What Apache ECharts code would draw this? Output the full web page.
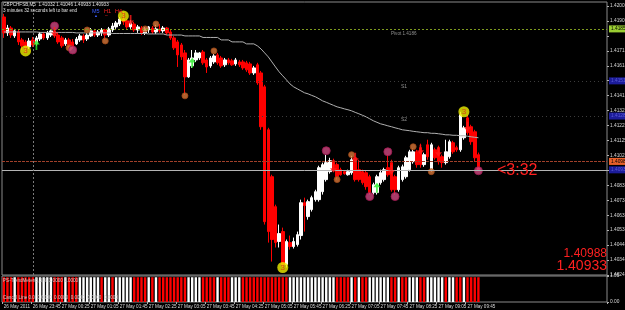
<!DOCTYPE html>
<html><head><meta charset="utf-8">
<script src="https://cdn.jsdelivr.net/npm/echarts@6/dist/echarts.min.js"></script>
<style>html,body{margin:0;padding:0;background:#000;}#c{width:625px;height:310px;}</style>
</head><body><div id="c"></div>
<script>
// ---- data (GBPCHF M5) ----
const openP = [1.41933,1.41829,1.41861,1.41809,1.41835,1.41783,1.41770,1.41737,1.41783,1.41757,
1.41789,1.41822,1.41796,1.41815,1.41842,1.41815,1.41796,1.41757,1.41783,1.41770,
1.41757,1.41783,1.41809,1.41789,1.41809,1.41842,1.41815,1.41829,1.41848,1.41815,
1.41848,1.41868,1.41887,1.41920,1.41907,1.41868,1.41887,1.41848,1.41861,1.41829,
1.41848,1.41861,1.41835,1.41855,1.41842,1.41861,1.41835,1.41796,1.41770,1.41750,
1.41698,1.41541,1.41613,1.41652,1.41665,1.41704,1.41652,1.41613,1.41639,1.41685,
1.41665,1.41620,1.41652,1.41646,1.41626,1.41639,1.41639,1.41633,1.41626,1.41567,
1.41620,1.41567,1.41476,1.41195,1.40888,1.40692,1.40464,1.40529,1.40314,1.40457,
1.40431,1.40444,1.40503,1.40718,1.40627,1.40673,1.40738,1.40738,1.40790,1.40869,
1.40921,1.40993,1.40967,1.40934,1.40921,1.40901,1.40914,1.41012,1.40934,1.40921,
1.40914,1.40888,1.40784,1.40784,1.40849,1.40869,1.40947,1.40980,1.40888,1.40803,
1.40869,1.40888,1.40934,1.40986,1.41051,1.41078,1.40967,1.41097,1.40934,1.41064,
1.41078,1.41019,1.40980,1.41019,1.41110,1.41078,1.41064,1.41143,1.41273,1.41215,
1.41182,1.41032];
const closeP = [1.41829,1.41861,1.41815,1.41842,1.41770,1.41744,1.41731,1.41776,1.41750,1.41796,
1.41822,1.41796,1.41829,1.41842,1.41809,1.41770,1.41744,1.41783,1.41744,1.41737,
1.41789,1.41809,1.41783,1.41815,1.41842,1.41815,1.41835,1.41848,1.41815,1.41855,
1.41874,1.41894,1.41920,1.41900,1.41868,1.41894,1.41848,1.41868,1.41829,1.41855,
1.41868,1.41835,1.41855,1.41842,1.41861,1.41829,1.41796,1.41731,1.41685,1.41672,
1.41541,1.41652,1.41665,1.41698,1.41698,1.41633,1.41606,1.41665,1.41678,1.41633,
1.41613,1.41652,1.41633,1.41620,1.41652,1.41620,1.41600,1.41587,1.41567,1.41600,
1.41502,1.41215,1.40594,1.40529,1.40477,1.40457,1.40516,1.40314,1.40464,1.40431,
1.40464,1.40509,1.40718,1.40699,1.40725,1.40751,1.40790,1.40947,1.40967,1.40980,
1.40993,1.40934,1.40888,1.40901,1.40908,1.40921,1.40999,1.40869,1.40869,1.40849,
1.40823,1.40784,1.40836,1.40888,1.40914,1.40934,1.40901,1.40803,1.40803,1.40947,
1.40953,1.41012,1.41051,1.41051,1.40967,1.40967,1.41032,1.41019,1.41097,1.41012,
1.40986,1.40980,1.41051,1.41117,1.41051,1.41064,1.41293,1.41208,1.41176,1.41117,
1.41012,1.40933];
const lowP = [1.41796,1.41809,1.41796,1.41796,1.41750,1.41717,1.41704,1.41724,1.41737,1.41744,
1.41776,1.41783,1.41783,1.41802,1.41796,1.41757,1.41731,1.41744,1.41731,1.41724,
1.41750,1.41770,1.41763,1.41776,1.41802,1.41802,1.41802,1.41809,1.41783,1.41802,
1.41835,1.41855,1.41874,1.41881,1.41855,1.41855,1.41835,1.41829,1.41815,1.41815,
1.41829,1.41822,1.41822,1.41829,1.41829,1.41815,1.41783,1.41717,1.41606,1.41652,
1.41424,1.41535,1.41600,1.41639,1.41652,1.41620,1.41567,1.41600,1.41626,1.41620,
1.41600,1.41606,1.41620,1.41613,1.41613,1.41606,1.41587,1.41574,1.41554,1.41554,
1.41489,1.41195,1.40575,1.40457,1.40333,1.40425,1.40425,1.40294,1.40294,1.40411,
1.40418,1.40431,1.40477,1.40529,1.40607,1.40660,1.40725,1.40725,1.40771,1.40856,
1.40908,1.40921,1.40869,1.40895,1.40901,1.40895,1.40901,1.40856,1.40856,1.40836,
1.40803,1.40771,1.40771,1.40771,1.40836,1.40856,1.40888,1.40790,1.40771,1.40790,
1.40856,1.40875,1.40921,1.40973,1.40947,1.40947,1.40953,1.40999,1.40921,1.40999,
1.40967,1.40947,1.40967,1.41006,1.41038,1.41051,1.41051,1.41130,1.41162,1.41097,
1.40986,1.40933];
const highP = [1.41953,1.41881,1.41874,1.41855,1.41848,1.41796,1.41783,1.41796,1.41802,1.41809,
1.41835,1.41835,1.41842,1.41855,1.41868,1.41829,1.41809,1.41796,1.41796,1.41789,
1.41802,1.41822,1.41822,1.41829,1.41861,1.41855,1.41848,1.41861,1.41855,1.41868,
1.41894,1.41907,1.41933,1.41966,1.41920,1.41913,1.41900,1.41881,1.41874,1.41868,
1.41874,1.41874,1.41881,1.41887,1.41874,1.41868,1.41848,1.41809,1.41783,1.41763,
1.41717,1.41665,1.41717,1.41717,1.41704,1.41717,1.41665,1.41678,1.41691,1.41698,
1.41678,1.41665,1.41665,1.41659,1.41665,1.41652,1.41652,1.41646,1.41639,1.41613,
1.41633,1.41580,1.41489,1.41208,1.40901,1.40705,1.40575,1.40555,1.40477,1.40503,
1.40490,1.40529,1.40738,1.40751,1.40738,1.40764,1.40803,1.40960,1.40980,1.41032,
1.41012,1.41006,1.40980,1.40947,1.40927,1.40934,1.41025,1.41025,1.40999,1.40934,
1.40927,1.40901,1.40849,1.40901,1.40934,1.40947,1.41032,1.40999,1.40901,1.40960,
1.40967,1.41025,1.41064,1.41071,1.41064,1.41104,1.41045,1.41130,1.41110,1.41078,
1.41091,1.41032,1.41130,1.41130,1.41123,1.41091,1.41313,1.41221,1.41293,1.41228,
1.41195,1.41046];
const maP = [1.41835,1.41835,1.41835,1.41835,1.41835,1.41835,1.41835,1.41835,1.41835,1.41835,
1.41832,1.41832,1.41832,1.41832,1.41832,1.41832,1.41832,1.41832,1.41832,1.41832,
1.41829,1.41829,1.41829,1.41829,1.41829,1.41829,1.41829,1.41829,1.41829,1.41829,
1.41825,1.41825,1.41825,1.41825,1.41825,1.41825,1.41825,1.41825,1.41825,1.41825,
1.41822,1.41822,1.41822,1.41822,1.41822,1.41815,1.41815,1.41815,1.41815,1.41815,
1.41809,1.41809,1.41809,1.41809,1.41809,1.41799,1.41799,1.41799,1.41799,1.41799,
1.41783,1.41783,1.41783,1.41770,1.41770,1.41770,1.41770,1.41757,1.41757,1.41757,
1.41744,1.41724,1.41698,1.41672,1.41639,1.41606,1.41574,1.41548,1.41522,1.41495,
1.41476,1.41463,1.41450,1.41437,1.41430,1.41420,1.41411,1.41398,1.41384,1.41375,
1.41365,1.41355,1.41345,1.41339,1.41332,1.41326,1.41319,1.41309,1.41300,1.41290,
1.41280,1.41267,1.41254,1.41244,1.41234,1.41228,1.41221,1.41215,1.41208,1.41202,
1.41195,1.41192,1.41189,1.41185,1.41182,1.41179,1.41176,1.41176,1.41172,1.41172,
1.41169,1.41166,1.41162,1.41162,1.41159,1.41159,1.41156,1.41156,1.41153,1.41149,
1.41146,1.41143];
const trendDir = [-1,-1,-1,1,-1,-1,-1,-1,-1, 1,1,1,1,1, -1,-1,-1,1,-1,-1,-1,
1,1,1,1,1,1,-1,1,1,-1,1,1,1,1,1, -1,-1,-1,-1,1, -1,1,-1, -1,-1,-1,-1,-1,-1,-1,
1,1,1,1, -1,-1,-1,-1, 1,-1,-1,-1,1, 1,1, -1,-1,-1,-1,-1,-1,-1,-1,-1,-1,-1,-1,-1,
1,1,1,1,1,1,1,1,1,1,1,1,1, -1,-1,-1,-1, 1,-1,1, -1,-1, 1, 1,1,1,1,1, -1,-1, 1,-1,-1,
1,1,1, -1,-1, 1,1,1,1,1, -1, 1,1, -1,-1, 1, -1,-1,-1,-1];
const timeLabels = ['26 May 2011','26 May 23:45','27 May 00:25','27 May 01:05','27 May 01:45','27 May 02:25',
'27 May 03:05','27 May 03:45','27 May 04:25','27 May 05:05','27 May 05:45','27 May 06:25','27 May 07:05',
'27 May 07:45','27 May 08:25','27 May 09:05','27 May 09:45'];
const priceTicks = ['1.40245','1.40343','1.40441','1.40538','1.40636','1.40734','1.40832','1.40929','1.41027',
'1.41125','1.41223','1.41321','1.41418','1.41516','1.41614','1.41712','1.41809','1.41907','1.42005'];
const hiddenTicks = [7,13,16];
const levelNames = ['Pivot','S1','S2','Ask','Bid'];
const levelValues = [1.41855,1.41515,1.41285,1.40988,1.40933];
const yellowMarks = [[6,1.41711],[33,1.41940],[77,1.40294],[127,1.41313]];
const pinkMarks = [[14,1.41874],[19,1.41717],[89,1.41058],[101,1.40758],[106,1.41051],[108,1.40758],[131,1.40927]];
const orangeMarks = [[18,1.41731],[23,1.41848],[28,1.41776],[39,1.41855],[42,1.41887],[50,1.41417],[58,1.41711],[92,1.40869],[96,1.41032],[113,1.41084],[118,1.40921]];
const redArrows = [[14,1.41835],[35,1.41913],[91,1.40947],[97,1.41012],[107,1.40934],[115,1.41064],[120,1.41051],[128,1.41215]];
const greenArrows = [[9,1.41750],[52,1.41633],[103,1.40816]];
const separatorSlot = 8;
const labelEvery = 8;
const totalSlots = 167;
const PMIN = 1.40245, PMAX = 1.42031, PSTEP = 0.00097778;

// ---- build ----
const slots = Array.from({length: totalSlots}, (_, i) => String(i));
const candles = openP.map((o, i) => [o, closeP[i], lowP[i], highP[i]]);
const FONT = 'Liberation Sans';
const levelStyles = {
  Pivot: {line: {color: '#7d9a1e', type: [2, 2], width: 1}, bg: '#9acd32', fg: '#000000'},
  S1: {line: {color: '#3c3c3c', type: [1, 3], width: 1}, bg: '#1c1c9a', fg: '#5a5ad8'},
  S2: {line: {color: '#3c3c3c', type: [1, 3], width: 1}, bg: '#1c1c9a', fg: '#5a5ad8'},
  Ask: {line: {color: '#a0402a', type: [3, 1], width: 1}, bg: '#e8602a', fg: '#000000'},
  Bid: {line: {color: '#b4b4b4', type: 'solid', width: 1}, bg: '#1c1c9a', fg: '#5a5ad8'}
};
const markLineData = levelNames.map((n, k) => ({
  yAxis: levelValues[k],
  lineStyle: levelStyles[n].line,
  label: {show: true, position: 'end', distance: 2, formatter: levelValues[k].toFixed(5),
    backgroundColor: levelStyles[n].bg, color: levelStyles[n].fg, fontSize: 4.8,
    fontFamily: FONT, padding: [1, 2, 1, 2]}
}));
markLineData.push({xAxis: String(separatorSlot), lineStyle: {color: '#7a7a7a', type: [2, 2], width: 1}, label: {show: false}});

const isLabelSlot = (idx) => idx % labelEvery === 0 && idx / labelEvery < timeLabels.length;
const downArrow = 'path://M3,0 L5,0 L5,6 L8,6 L4,11 L0,6 L3,6 Z';
const upArrow = 'path://M4,0 L8,5 L5,5 L5,11 L3,11 L3,5 L0,5 Z';

const chart = echarts.init(document.getElementById('c'), null, {renderer: 'canvas'});
const txt = (t, left, top, fill, size, extra) => Object.assign({
  type: 'text', left: left, top: top, silent: true, z: 100,
  style: {text: t, fill: fill, font: size + 'px "' + FONT + '"'}
}, extra || {});

chart.setOption({
  animation: false,
  backgroundColor: '#000000',
  grid: [
    {left: 2, right: 18, top: 2, height: 273, show: true, borderColor: '#8a8a8a', borderWidth: 1, backgroundColor: 'transparent', outerBoundsMode: 'none'},
    {left: 2, right: 18, top: 276, height: 26, show: true, borderColor: '#8a8a8a', borderWidth: 1, backgroundColor: 'transparent', outerBoundsMode: 'none'}
  ],
  xAxis: [
    {type: 'category', gridIndex: 0, data: slots, boundaryGap: true,
      axisLine: {show: false}, axisTick: {show: false}, axisLabel: {show: false}, splitLine: {show: false}},
    {type: 'category', gridIndex: 1, data: slots, boundaryGap: true,
      axisLine: {show: false},
      axisTick: {show: true, length: 2, interval: (i) => isLabelSlot(i), lineStyle: {color: '#b0b0b0'}},
      axisLabel: {show: true, interval: (i) => isLabelSlot(i), formatter: (v, i) => timeLabels[i / labelEvery] || '',
        align: 'left', color: '#d8d8d8', fontSize: 4.6, fontFamily: FONT, margin: 2},
      splitLine: {show: false}}
  ],
  yAxis: [
    {type: 'value', gridIndex: 0, position: 'right', min: PMIN, max: PMAX, interval: PSTEP, scale: true,
      axisLine: {show: false}, splitLine: {show: false},
      axisTick: {show: true, length: 2, lineStyle: {color: '#b0b0b0'}},
      axisLabel: {show: true, showMaxLabel: false, color: '#d8d8d8', fontSize: 4.8, fontFamily: FONT, margin: 3,
        formatter: (v) => {
          const f = (v - PMIN) / PSTEP, k = Math.round(f);
          if (Math.abs(f - k) > 0.05 || hiddenTicks.includes(k)) return '';
          return priceTicks[k] || '';
        }}},
    {type: 'value', gridIndex: 1, position: 'right', min: 0, max: 1.05, interval: 1.05,
      axisLine: {show: false}, splitLine: {show: false},
      axisTick: {show: true, length: 2, lineStyle: {color: '#b0b0b0'}},
      axisLabel: {show: true, color: '#d8d8d8', fontSize: 4.8, fontFamily: FONT, margin: 3, formatter: (v) => v.toFixed(2)}}
  ],
  series: [
    {type: 'candlestick', xAxisIndex: 0, yAxisIndex: 0, data: candles, barWidth: 3, silent: true,
      itemStyle: {color: '#ffffff', color0: '#ff0000', borderColor: '#ffffff', borderColor0: '#ff0000', borderWidth: 1},
      markLine: {silent: true, symbol: ['none', 'none'], precision: 5, animation: false, data: markLineData}},
    {type: 'line', xAxisIndex: 0, yAxisIndex: 0, data: maP, showSymbol: false, silent: true,
      lineStyle: {color: '#b0b0b0', width: 1}, z: 3},
    {type: 'scatter', xAxisIndex: 0, yAxisIndex: 0, data: orangeMarks, symbol: 'circle', symbolSize: 6, silent: true,
      itemStyle: {color: '#d8783a', borderColor: '#a04a18', borderWidth: 1}, z: 4},
    {type: 'scatter', xAxisIndex: 0, yAxisIndex: 0, data: pinkMarks, symbol: 'circle', symbolSize: 8, silent: true,
      itemStyle: {color: '#d04a82', borderColor: '#a01850', borderWidth: 1}, z: 4},
    {type: 'scatter', xAxisIndex: 0, yAxisIndex: 0, data: redArrows, symbol: downArrow, symbolSize: [7, 10], silent: true,
      itemStyle: {color: '#ff1a1a'}, z: 5},
    {type: 'scatter', xAxisIndex: 0, yAxisIndex: 0, data: greenArrows, symbol: upArrow, symbolSize: [7, 10], silent: true,
      itemStyle: {color: '#22ee22'}, z: 5},
    {type: 'scatter', xAxisIndex: 0, yAxisIndex: 0, data: yellowMarks, symbol: 'circle', symbolSize: 11, silent: true,
      itemStyle: {color: '#f0f000'}, z: 6,
      label: {show: true, position: 'inside', formatter: '3', color: '#e02020', fontSize: 8, fontFamily: FONT}},
    {type: 'bar', xAxisIndex: 1, yAxisIndex: 1, barWidth: 2.4, silent: true,
      data: trendDir.map((d) => ({value: 1, itemStyle: {color: d > 0 ? '#ffffff' : '#ff0000'}}))}
  ],
  graphic: [
    txt('GBPCHFSB,M5  1.41032 1.41046 1.40933 1.40933', 3, 2, '#e0e0e0', 4.6),
    txt('3 minutes 32 seconds left to bar end', 3, 8, '#e0e0e0', 4.6),
    txt('M5', 92, 8, '#3a5cff', 5.5),
    txt('H1', 104, 8, '#ff2020', 5.5),
    txt('H4', 115, 8, '#ff2020', 5.5),
    txt('\u25B2', 94, 14, '#3a5cff', 4),
    txt('\u2012', 105, 13, '#ff2020', 5),
    txt('Pivot 1.4186', 391, 31, '#909090', 4.6),
    txt('S1', 401, 84, '#909090', 5),
    txt('S2', 401, 117, '#909090', 5),
    txt('<3:32', 497, 163, '#ff2020', 16),
    txt('1.40988', 0, 248, '#ff2020', 12, {left: null, right: 18}),
    txt('1.40933', 0, 259, '#ff2020', 14, {left: null, right: 18}),
    txt('PS-TrendMeter(5,3,0) 1.0000 1.0000', 3, 278, '#c8c8c8', 4.6),
    txt('Cancel Line 0.0  0.0000  0.0000  0.0000  0.0000  0.0000', 3, 295, '#c8c8c8', 4.6)
  ]
});
</script>
</body></html>
